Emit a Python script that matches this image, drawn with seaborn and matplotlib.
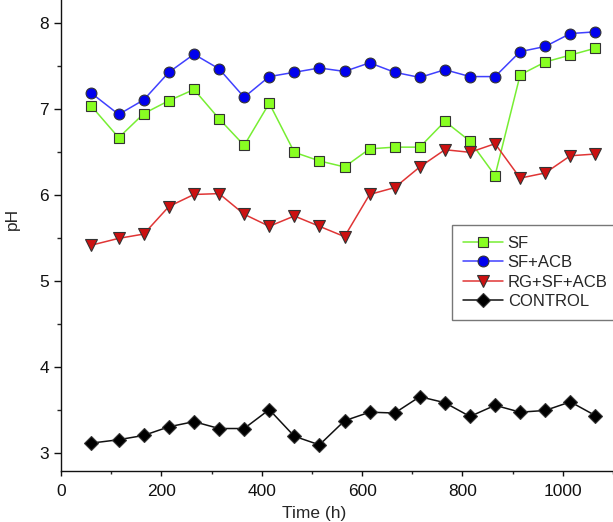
import matplotlib
matplotlib.use("Agg")
import matplotlib.pyplot as plt
from matplotlib.ticker import MultipleLocator
import numpy as np
import pandas as pd
import seaborn as sns

# Sampling times (h)
time_h = [60, 115, 165, 215, 265, 315, 365, 415, 465, 515, 565,
          615, 665, 715, 765, 815, 865, 915, 965, 1015, 1065]

# pH readings per treatment
ph_sf = [7.04, 6.67, 6.95, 7.10, 7.23, 6.89, 6.58, 7.07, 6.50, 6.40, 6.33,
         6.54, 6.56, 6.56, 6.86, 6.63, 6.23, 7.40, 7.55, 7.63, 7.71]
ph_sf_acb = [7.19, 6.94, 7.11, 7.43, 7.64, 7.47, 7.14, 7.38, 7.43, 7.48, 7.44,
             7.54, 7.43, 7.37, 7.46, 7.38, 7.38, 7.67, 7.73, 7.88, 7.90]
ph_rg_sf_acb = [5.42, 5.50, 5.55, 5.87, 6.01, 6.02, 5.78, 5.64, 5.76, 5.64, 5.52,
                6.01, 6.09, 6.33, 6.53, 6.50, 6.60, 6.20, 6.26, 6.46, 6.48]
ph_control = [3.12, 3.16, 3.21, 3.31, 3.37, 3.29, 3.29, 3.51, 3.20, 3.10, 3.38,
              3.48, 3.47, 3.66, 3.59, 3.43, 3.56, 3.48, 3.50, 3.60, 3.44]

series_names = ["SF", "SF+ACB", "RG+SF+ACB", "CONTROL"]

df = pd.DataFrame({
    "Time (h)": time_h * 4,
    "pH": ph_sf + ph_sf_acb + ph_rg_sf_acb + ph_control,
    "series": np.repeat(series_names, len(time_h)),
})

styles = {
    "SF": dict(color="#77ee33", marker="s", mfc="#88ff22", ms=7.0),
    "SF+ACB": dict(color="#4040ff", marker="o", mfc="#0000ee", ms=7.8),
    "RG+SF+ACB": dict(color="#e03535", marker="v", mfc="#cc1111", ms=8.5),
    "CONTROL": dict(color="#111111", marker="D", mfc="#000000", ms=7.5),
}

sns.set_style("ticks")
plt.rcParams["font.family"] = ["Liberation Sans", "DejaVu Sans"]

fig = plt.figure(figsize=(6.13, 5.22), dpi=100)
ax = fig.add_axes([0.0995, 0.0983, 0.9005, 0.9017])

for name in series_names:
    st = styles[name]
    sns.lineplot(
        data=df[df["series"] == name], x="Time (h)", y="pH", ax=ax,
        color=st["color"], marker=st["marker"], markersize=st["ms"],
        markerfacecolor=st["mfc"], markeredgecolor="#333333",
        markeredgewidth=0.8, linewidth=1.1, label=name,
    )

ax.set_xlim(0, 1100)
ax.set_ylim(2.8, 8.27)
ax.xaxis.set_major_locator(MultipleLocator(200))
ax.xaxis.set_minor_locator(MultipleLocator(100))
ax.yaxis.set_major_locator(MultipleLocator(1))
ax.yaxis.set_minor_locator(MultipleLocator(0.5))

for side in ["top", "right"]:
    ax.spines[side].set_visible(False)
for side in ["left", "bottom"]:
    ax.spines[side].set_linewidth(1.0)
    ax.spines[side].set_color("#111111")

ax.tick_params(axis="x", which="major", direction="out", length=3.3, width=1,
               labelsize=12.5, pad=6, colors="#111111")
ax.tick_params(axis="x", which="minor", direction="out", length=2.4, width=1)
ax.tick_params(axis="y", which="major", direction="out", length=5.3, width=1,
               labelsize=12.5, pad=3.5, colors="#111111")
ax.tick_params(axis="y", which="minor", direction="out", length=3, width=1)

ax.set_xlabel("Time (h)", fontsize=12.5)
ax.set_ylabel("pH", fontsize=12.5)
ax.xaxis.set_label_coords(0.458, -0.075)
ax.yaxis.set_label_coords(-0.074, 0.535)

leg = ax.legend(
    loc="upper left", bbox_to_anchor=(0.708, 0.5226), fontsize=12,
    frameon=True, fancybox=False, framealpha=1, edgecolor="#777777",
    borderpad=0.65, labelspacing=0.27, handlelength=2.45, handletextpad=0.25,
    borderaxespad=0,
)
leg.get_frame().set_linewidth(1.0)

fig.savefig("out.png", dpi=100)
